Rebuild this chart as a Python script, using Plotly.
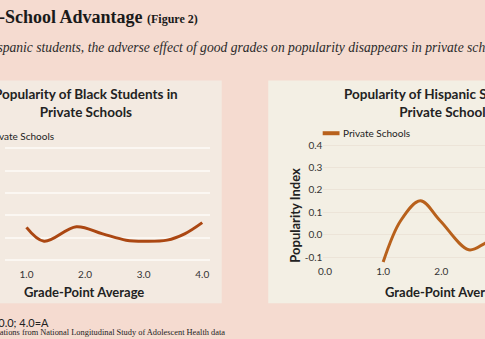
import plotly.graph_objects as go

# ---------------- data ----------------
gpa_black = [1.0, 1.3, 1.85, 2.3, 2.7, 3.0, 3.4, 3.7, 4.0]
pop_black = [0.047, -0.015, 0.05, 0.018, -0.01, -0.015, -0.01, 0.018, 0.068]

gpa_hisp = [1.0, 1.3, 1.64, 1.98, 2.47, 2.75, 3.0]
pop_hisp = [-0.121, 0.063, 0.152, 0.063, -0.066, -0.037, 0.0]

x_ticks = [0.0, 1.0, 2.0, 3.0, 4.0]
x_tick_text = ["0.0", "1.0", "2.0", "3.0", "4.0"]
y_ticks = [-0.1, 0.0, 0.1, 0.2, 0.3, 0.4]
y_tick_text = ["-0.1", "0.0", "0.1", "0.2", "0.3", "0.4"]

series_name = "Private Schools"
title_black = "Popularity of Black Students in<br>Private Schools"
title_hisp = "Popularity of Hispanic Students in<br>Private Schools"
x_title = "Grade-Point Average"
y_title = "Popularity Index"
header = "Private-School Advantage <span style='font-size:12px'>(Figure 2)</span>"
subtitle = "For Hispanic students, the adverse effect of good grades on popularity disappears in private schools."
note = "Note: F=0.0; 4.0=A"
source = "Source: Author's calculations from National Longitudinal Study of Adolescent Health data"

# ---------------- layout helpers ----------------
W, H = 485, 339
def X(px):
    return px / W
def Y(py):
    return 1 - py / H

SANS = "Lato, 'DejaVu Sans', sans-serif"
SERIF = "'Liberation Serif', 'DejaVu Serif', serif"

BG = "#f5dbd0"
PANEL_L = "#f3eae1"
PANEL_R = "#f3efe4"
COL_L = "#ab4712"
COL_R = "#b8611c"

fig = go.Figure()
fig.add_trace(go.Scatter(x=gpa_black, y=pop_black, mode="lines", name=series_name,
                         line=dict(color=COL_L, width=3, shape="spline", smoothing=1.0),
                         xaxis="x", yaxis="y", showlegend=False))
fig.add_trace(go.Scatter(x=gpa_hisp, y=pop_hisp, mode="lines", name=series_name,
                         line=dict(color=COL_R, width=3, shape="spline", smoothing=1.0),
                         xaxis="x2", yaxis="y2", showlegend=False))

lx0, lsx = -37.5, 59.2
ly0, lsy = 237.3, 225.6
rx0, rsx = 323.3, 58.8
ry0, rsy = 234.3, 226.0
ymin, ymax = -0.13, 0.42

left_dom_px = (0, 206.7)
right_dom_px = (321.7, 485)

def axis_common(**kw):
    d = dict(showline=False, zeroline=False, ticks="", showgrid=True,
             tickfont=dict(family=SANS, size=10, color="#333333"))
    d.update(kw)
    return d

fig.update_layout(
    width=W, height=H, margin=dict(l=0, r=0, t=0, b=0),
    paper_bgcolor=BG, plot_bgcolor="rgba(0,0,0,0)",
    xaxis=axis_common(domain=[X(left_dom_px[0]), X(left_dom_px[1])],
                      range=[(left_dom_px[0] - lx0) / lsx, (left_dom_px[1] - lx0) / lsx],
                      tickvals=x_ticks, ticktext=x_tick_text, showgrid=False, anchor="y"),
    yaxis=axis_common(domain=[Y(ly0 - ymin * lsy), Y(ly0 - ymax * lsy)],
                      range=[ymin, ymax], tickvals=y_ticks, ticktext=y_tick_text,
                      showticklabels=False, gridcolor="#fbf7f2", gridwidth=1.5, anchor="x"),
    xaxis2=axis_common(domain=[X(right_dom_px[0]), X(right_dom_px[1])],
                       range=[(right_dom_px[0] - rx0) / rsx, (right_dom_px[1] - rx0) / rsx],
                       tickvals=x_ticks, ticktext=x_tick_text, showgrid=False, anchor="y2"),
    yaxis2=axis_common(domain=[Y(ry0 - ymin * rsy), Y(ry0 - ymax * rsy)],
                       range=[ymin, ymax], tickvals=y_ticks, ticktext=y_tick_text,
                       gridcolor="#ece4d8", gridwidth=1, anchor="x2"),
)

shapes = [
    dict(type="rect", xref="paper", yref="paper", x0=X(-120), x1=X(219), y0=Y(303), y1=Y(79),
         fillcolor=PANEL_L, line=dict(width=0), layer="below"),
    dict(type="rect", xref="paper", yref="paper", x0=X(266), x1=X(640), y0=Y(303), y1=Y(79),
         fillcolor=PANEL_R, line=dict(width=0), layer="below"),
    dict(type="line", xref="paper", yref="paper", x0=X(-39), x1=X(-22), y0=Y(135), y1=Y(135),
         line=dict(color=COL_L, width=4)),
    dict(type="line", xref="paper", yref="paper", x0=X(321), x1=X(338), y0=Y(132), y1=Y(132),
         line=dict(color=COL_R, width=4)),
]
fig.update_layout(shapes=shapes)

ann = []
def A(text, px, py, size, family=SANS, color="#222222", xanchor="center", yanchor="middle", **kw):
    ann.append(dict(text=text, x=X(px), y=Y(py), xref="paper", yref="paper", showarrow=False,
                    xanchor=xanchor, yanchor=yanchor, font=dict(family=family, size=size, color=color), **kw))

A("<b>" + header + "</b>", 197, 15, 18, family=SERIF, color="#1a1a1a", xanchor="right")
A("<i>" + subtitle + "</i>", -48, 46, 13.6, family=SERIF, color="#2a2a2a", xanchor="left")
A("<b>" + title_black + "</b>", 82, 102, 13.5, align="center")
A("<b>" + title_hisp + "</b>", 445, 102, 13.5, align="center")
A(series_name, -20, 135, 10, xanchor="left")
A(series_name, 340, 132, 10, xanchor="left")
A("<b>" + x_title + "</b>", 80, 292, 13)
A("<b>" + x_title + "</b>", 445, 292, 13)
A("<b>" + y_title + "</b>", 293, 214, 13, textangle=-90)
A(note, 46, 322, 11, family="Lato, sans-serif", xanchor="right")
A(source, 224, 332, 8.4, family=SERIF, xanchor="right")

fig.update_layout(annotations=ann)
fig.write_html("out.html")
